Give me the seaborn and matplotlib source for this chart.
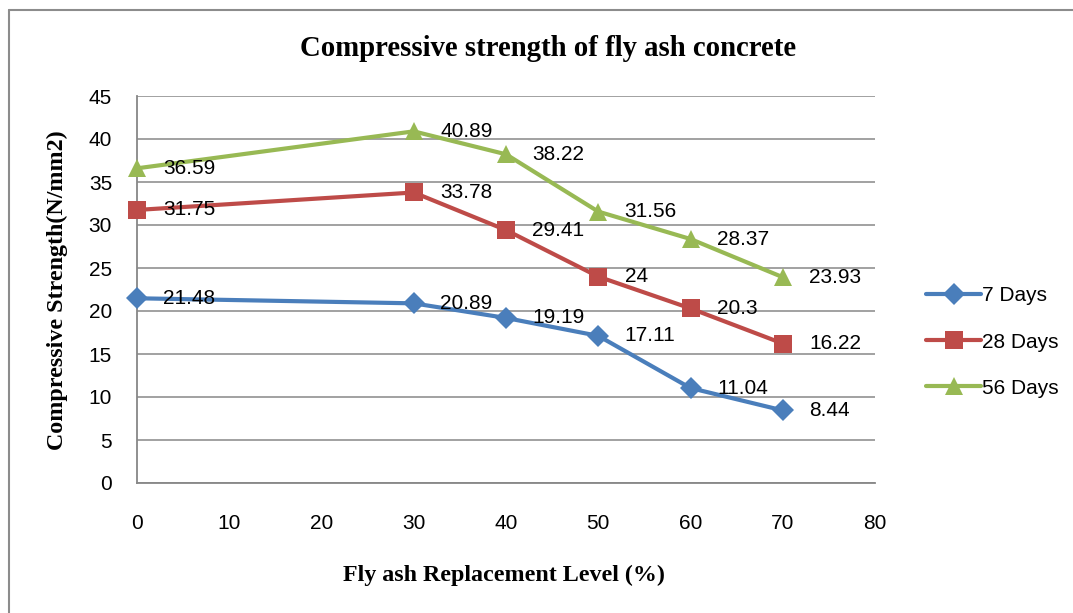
import pandas as pd
import matplotlib
import matplotlib.pyplot as plt
import seaborn as sns
from matplotlib.lines import Line2D

matplotlib.use("Agg")

# data
levels = [0, 30, 40, 50, 60, 70]
days7 = [21.48, 20.89, 19.19, 17.11, 11.04, 8.44]
days28 = [31.75, 33.78, 29.41, 24, 20.3, 16.22]
days56 = [36.59, 40.89, 38.22, 31.56, 28.37, 23.93]
series_names = ["7 Days", "28 Days", "56 Days"]
x_ticks = list(range(0, 81, 10))
y_ticks = list(range(0, 46, 5))

title = "Compressive strength of fly ash concrete"
x_label = "Fly ash Replacement Level (%)"
y_label = "Compressive Strength(N/mm2)"


def build_frame():
    rows = {"level": [], "strength": [], "age": []}
    for name, vals in zip(series_names, [days7, days28, days56]):
        rows["level"] += levels
        rows["strength"] += vals
        rows["age"] += [name] * len(vals)
    return pd.DataFrame(rows)


if __name__ == "__main__":
    sns.set_style("white")
    plt.rcParams["font.family"] = ["Liberation Sans", "DejaVu Sans"]
    plt.rcParams.update({"text.color": "black", "axes.labelcolor": "black",
                         "xtick.color": "black", "ytick.color": "black"})

    data = build_frame()
    colors = {"7 Days": "#4a7ebb", "28 Days": "#be4b48", "56 Days": "#98b954"}
    markers = {"7 Days": "D", "28 Days": "s", "56 Days": "^"}
    msizes = {"7 Days": 11, "28 Days": 12.5, "56 Days": 12.5}

    W, H = 1073, 613
    fig = plt.figure(figsize=(W / 100, H / 100), dpi=100)
    ax = fig.add_axes([137 / W, 1 - 483 / H, (875 - 137) / W, (483 - 96) / H])

    sns.lineplot(
        data=data,
        x="level",
        y="strength",
        hue="age",
        style="age",
        palette=colors,
        markers=markers,
        dashes=False,
        linewidth=3,
        markeredgewidth=0,
        ax=ax,
    )
    for line, name in zip(ax.lines, series_names):
        line.set_markersize(msizes[name])
        line.set_clip_on(False)
        line.set_zorder(3)

    # data labels to the right of each point
    for name, vals in zip(series_names, [days7, days28, days56]):
        for x, v in zip(levels, vals):
            ax.annotate(f"{v:g}", (x, v), xytext=(19, 0), textcoords="offset points",
                        ha="left", va="center", fontsize=15, color="black")

    ax.set_xlim(0, 80)
    ax.set_ylim(0, 45)
    ax.set_xticks(x_ticks)
    ax.set_yticks(y_ticks)
    ax.tick_params(axis="x", length=0, pad=22, labelsize=15)
    ax.tick_params(axis="y", length=0, pad=18, labelsize=15)
    ax.yaxis.grid(True, color="#878787", linewidth=1.1)
    ax.set_axisbelow(True)
    for pos in ["top", "right"]:
        ax.spines[pos].set_visible(False)
    for pos in ["left", "bottom"]:
        ax.spines[pos].set_edgecolor("#878787")
        ax.spines[pos].set_linewidth(1.3)
    ax.set_xlabel("")
    ax.set_ylabel("")

    handles, labels = ax.get_legend_handles_labels()
    for h, lab in zip(handles, labels):
        h.set_markersize(msizes[lab])
        h.set_markeredgewidth(0)
    ax.legend(handles, labels, loc="center left", bbox_to_anchor=(916 / W, 1 - 342 / H),
              bbox_transform=fig.transFigure, frameon=False, fontsize=15,
              handlelength=2.6, handletextpad=0.05, labelspacing=1.3, borderpad=0)

    serif = ["Liberation Serif", "DejaVu Serif"]
    fig.text(548 / W, 1 - 49 / H, title, ha="center", va="center",
             fontsize=20.7, fontweight="bold", family=serif)
    fig.text(504 / W, 1 - 575 / H, x_label, ha="center", va="center",
             fontsize=17.3, fontweight="bold", family=serif)
    fig.text(57 / W, 1 - 290 / H, y_label, ha="center", va="center", rotation=90,
             fontsize=17.3, fontweight="bold", family=serif)

    # chart-area border (only left and top edges fall inside the picture)
    fig.add_artist(Line2D([8.5 / W, 8.5 / W], [0, 1 - 10 / H], color="#8c8c8c",
                          linewidth=1.5, transform=fig.transFigure))
    fig.add_artist(Line2D([8.5 / W, 1], [1 - 10 / H, 1 - 10 / H], color="#8c8c8c",
                          linewidth=1.5, transform=fig.transFigure))

    fig.savefig("out.png", dpi=100)
    plt.close(fig)
